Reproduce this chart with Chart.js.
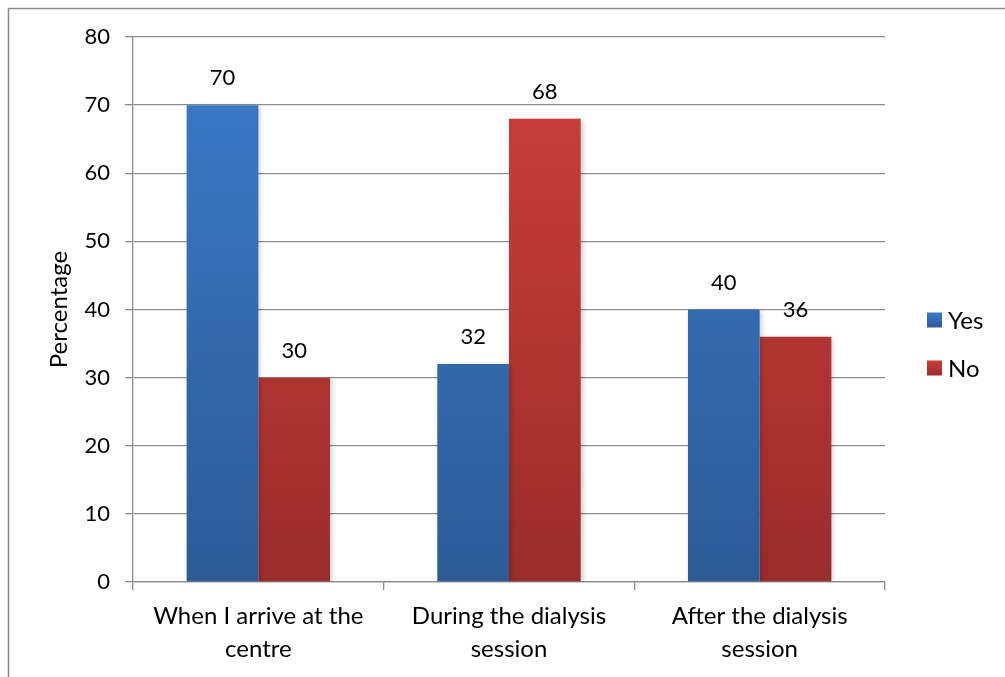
<!DOCTYPE html>
<html>
<head>
<meta charset="utf-8">
<script src="https://cdn.jsdelivr.net/npm/chart.js@4"></script>
<style>
  html, body { margin: 0; padding: 0; background: #ffffff; }
  #wrap { width: 1005px; height: 677px; position: relative; }
</style>
</head>
<body>
<div id="wrap"><canvas id="chart" width="1005" height="677"></canvas></div>
<script>
// Survey data: share of respondents answering Yes / No at each stage
const categories = [
  ['When I arrive at the', 'centre'],
  ['During the dialysis', 'session'],
  ['After the dialysis', 'session']
];
const seriesNames = ['Yes', 'No'];
const yesValues = [70, 32, 40];
const noValues = [30, 68, 36];
const yTicks = [0, 10, 20, 30, 40, 50, 60, 70, 80];

const FONT = 'Lato, "Open Sans", sans-serif';
const NUM_SIZE = 22;   // numbers: tick values and bar values
const TEXT_SIZE = 24;  // words: categories, axis title, legend
const GRID = '#8d8d8d';

// Vertical gradient fill for each series, light at the top, dark at the base
const palette = {
  Yes: ['#3b7bca', '#2c5b96'],
  No: ['#cf3f3b', '#9a2d2b']
};
function barGradient(name) {
  return function (ctx) {
    const chart = ctx.chart;
    const area = chart.chartArea;
    if (!area) return palette[name][0];
    const y = chart.scales.y;
    const el = ctx.element || (ctx.dataIndex !== undefined ? chart.getDatasetMeta(ctx.datasetIndex).data[ctx.dataIndex] : null);
    const top = el && isFinite(el.y) ? el.y : area.top;
    const g = chart.ctx.createLinearGradient(0, top, 0, y.getPixelForValue(0));
    g.addColorStop(0, palette[name][0]);
    g.addColorStop(1, palette[name][1]);
    return g;
  };
}

// Outer frame of the chart object
const framePlugin = {
  id: 'frame',
  beforeDraw(chart) {
    const c = chart.ctx;
    c.save();
    c.strokeStyle = '#8a8a8a';
    c.lineWidth = 1.5;
    c.strokeRect(8.5, 8.5, chart.width + 20, chart.height + 20);
    c.restore();
  }
};

// Soft shadow to the right of the bars
const shadowPlugin = {
  id: 'barShadow',
  beforeDatasetsDraw(chart) {
    const c = chart.ctx;
    c.save();
    c.shadowColor = 'rgba(0,0,0,0.22)';
    c.shadowBlur = 5;
    c.shadowOffsetX = 2;
    c.shadowOffsetY = 1;
  },
  afterDatasetsDraw(chart) {
    chart.ctx.restore();
  }
};

// Value labels above bars
const valueLabels = {
  id: 'valueLabels',
  afterDatasetsDraw(chart) {
    const c = chart.ctx;
    c.save();
    c.font = NUM_SIZE + 'px ' + FONT;
    c.fillStyle = '#000000';
    c.textAlign = 'center';
    c.textBaseline = 'middle';
    chart.data.datasets.forEach((ds, di) => {
      chart.getDatasetMeta(di).data.forEach((bar, i) => {
        c.fillText(String(ds.data[i]), bar.x, bar.y - 27);
      });
    });
    c.restore();
  }
};

// Legend on the right, squares beside series names
const sideLegend = {
  id: 'sideLegend',
  afterDraw(chart) {
    const c = chart.ctx;
    c.save();
    c.font = TEXT_SIZE + 'px ' + FONT;
    c.textBaseline = 'middle';
    c.textAlign = 'left';
    const rows = [320, 368];
    chart.data.datasets.forEach((ds, di) => {
      const cy = rows[di];
      const g = c.createLinearGradient(0, cy - 7.5, 0, cy + 7.5);
      g.addColorStop(0, palette[ds.label][0]);
      g.addColorStop(1, palette[ds.label][1]);
      c.fillStyle = g;
      c.fillRect(927, cy - 7.5, 15, 15);
      c.fillStyle = '#000000';
      c.fillText(ds.label, 948, cy + 1);
    });
    c.restore();
  }
};

new Chart(document.getElementById('chart'), {
  type: 'bar',
  data: {
    labels: categories,
    datasets: [
      { label: seriesNames[0], data: yesValues, backgroundColor: barGradient('Yes') },
      { label: seriesNames[1], data: noValues, backgroundColor: barGradient('No') }
    ]
  },
  options: {
    responsive: false,
    animation: false,
    devicePixelRatio: 1,
    layout: { padding: { top: 37, right: 120, bottom: 0, left: 0 } },
    datasets: { bar: { barPercentage: 1.0, categoryPercentage: 0.572, borderWidth: 0 } },
    plugins: {
      legend: { display: false },
      tooltip: { enabled: false }
    },
    scales: {
      x: {
        grid: { display: true, offset: true, drawOnChartArea: false, color: GRID, lineWidth: 1.3, tickLength: 8 },
        border: { color: GRID, width: 1.3 },
        ticks: { color: '#000000', font: { family: FONT, size: TEXT_SIZE, lineHeight: 1.375 }, padding: 10, maxRotation: 0, autoSkip: false },
        afterFit(scale) { scale.height = 95; }
      },
      y: {
        min: 0,
        max: 80,
        afterBuildTicks(scale) { scale.ticks = yTicks.map(v => ({ value: v })); },
        grid: { color: GRID, lineWidth: 1.3, tickLength: 8 },
        border: { color: GRID, width: 1.3 },
        ticks: { color: '#000000', font: { family: FONT, size: NUM_SIZE }, padding: 15 },
        title: { display: true, text: 'Percentage', color: '#000000', font: { family: FONT, size: TEXT_SIZE }, padding: { top: 45, bottom: 0 } },
        afterFit(scale) { scale.width = 133; }
      }
    }
  },
  plugins: [framePlugin, shadowPlugin, valueLabels, sideLegend]
});
</script>
</body>
</html>
